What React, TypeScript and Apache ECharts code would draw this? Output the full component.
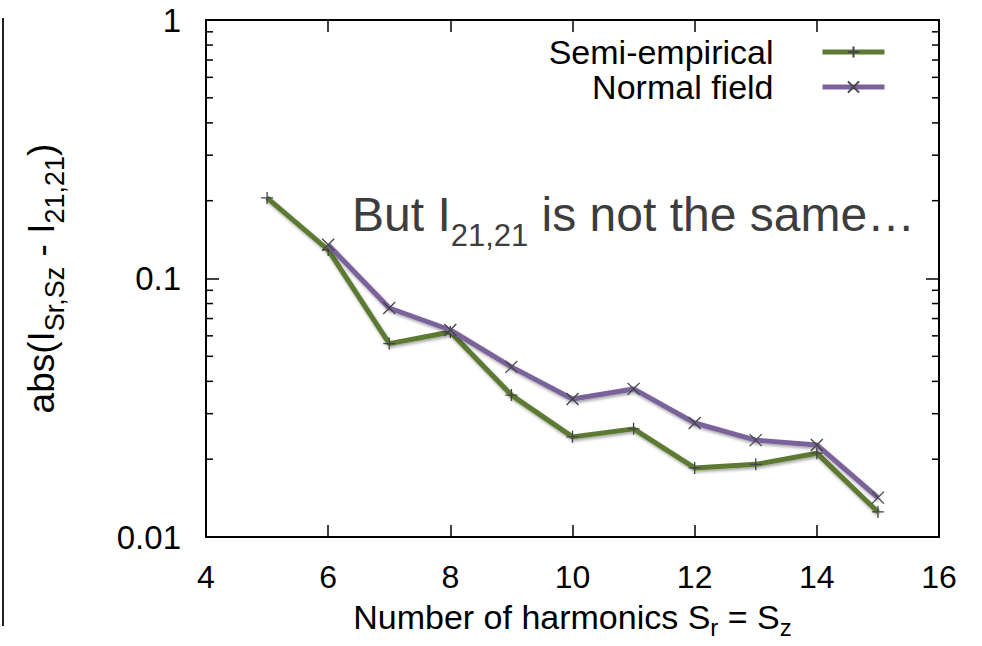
import React, { useEffect, useRef } from "react";
import * as echarts from "echarts";

const harmonics = [5, 6, 7, 8, 9, 10, 11, 12, 13, 14, 15];
const semiEmpirical = [0.205, 0.129, 0.0560, 0.0621, 0.0354, 0.0244, 0.0262, 0.0185, 0.0191, 0.0211, 0.0125];
const normalHarmonics = [6, 7, 8, 9, 10, 11, 12, 13, 14, 15];
const normalField = [0.135, 0.0769, 0.0632, 0.0455, 0.0342, 0.0374, 0.0276, 0.0237, 0.0227, 0.0142];
const xTicks = [4, 6, 8, 10, 12, 14, 16];
const yMajor = [0.01, 0.1, 1];
const yMinor = [0.02, 0.03, 0.04, 0.05, 0.06, 0.07, 0.08, 0.09, 0.2, 0.3, 0.4, 0.5, 0.6, 0.7, 0.8, 0.9];

const FONT = "'Liberation Sans', Arial, Helvetica, sans-serif";
const GREEN = "#5d7a31";
const PURPLE = "#7a639b";
const PLUS = "path://M0,5L10,5M5,0L5,10";
const CROSS = "path://M0,0L10,10M10,0L0,10";

export default function App() {
  const ref = useRef<HTMLDivElement>(null);
  useEffect(() => {
    if (!ref.current) return;
    const chart = echarts.init(ref.current, null, { renderer: "svg" });
    const xMin = xTicks[0];
    const xMax = xTicks[xTicks.length - 1];
    const shadow = { shadowColor: "rgba(0,0,0,0.35)", shadowBlur: 3, shadowOffsetX: 1, shadowOffsetY: 2 };
    const axisCommon = {
      axisLine: { show: true, onZero: false, lineStyle: { color: "#000", width: 2 } },
      splitLine: { show: false },
    };
    chart.setOption({
      animation: false,
      backgroundColor: "#fff",
      grid: { left: 206, right: 43, top: 20, bottom: 109, containLabel: false, outerBoundsMode: "none" },
      legend: {
        orient: "vertical",
        align: "right",
        right: 90,
        top: 30,
        itemWidth: 62,
        itemHeight: 14,
        itemGap: 1,
        selectedMode: false,
        textStyle: { fontFamily: FONT, fontSize: 34, color: "#000", padding: [0, 44, 0, 0], lineHeight: 33 },
        data: [
          { name: "Semi-empirical", lineStyle: { color: GREEN, width: 5 } },
          { name: "Normal field", lineStyle: { color: PURPLE, width: 5 } },
        ],
      },
      xAxis: [
        {
          type: "value",
          min: xMin,
          max: xMax,
          interval: 2,
          position: "bottom",
          ...axisCommon,
          axisTick: { show: true, inside: true, length: 12, lineStyle: { color: "#000", width: 1.5 } },
          axisLabel: { fontFamily: FONT, fontSize: 32, color: "#000", margin: 24 },
          name: "{m|Number of harmonics S}{s|r}{m| = S}{s|z}",
          nameLocation: "middle",
          nameGap: 58,
          nameTextStyle: {
            fontFamily: FONT,
            color: "#000",
            rich: {
              m: { fontFamily: FONT, fontSize: 34, color: "#000" },
              s: { fontFamily: FONT, fontSize: 24, color: "#000", padding: [20, 0, 0, 0] },
            },
          },
        },
        {
          type: "value",
          min: xMin,
          max: xMax,
          interval: 2,
          position: "top",
          ...axisCommon,
          axisTick: { show: true, inside: true, length: 12, lineStyle: { color: "#000", width: 1.5 } },
          axisLabel: { show: false },
        },
      ],
      yAxis: [
        {
          type: "log",
          logBase: 10,
          min: yMajor[0],
          max: yMajor[yMajor.length - 1],
          position: "left",
          ...axisCommon,
          axisTick: { show: true, inside: true, length: 13, lineStyle: { color: "#000", width: 1.5 } },
          axisLabel: { fontFamily: FONT, fontSize: 33, color: "#000", margin: 25, formatter: (v: number) => String(v) },
          name: "{m|abs(I}{s|Sr,Sz}{m| - I}{s|21,21}{m|)}",
          nameLocation: "middle",
          nameRotate: 90,
          nameGap: 138,
          nameTextStyle: {
            fontFamily: FONT,
            color: "#000",
            rich: {
              m: { fontFamily: FONT, fontSize: 37, color: "#000" },
              s: { fontFamily: FONT, fontSize: 27, color: "#000", padding: [26, 0, 0, 0] },
            },
          },
        },
        {
          type: "log",
          logBase: 10,
          min: yMajor[0],
          max: yMajor[yMajor.length - 1],
          position: "right",
          ...axisCommon,
          axisTick: { show: true, inside: true, length: 13, lineStyle: { color: "#000", width: 1.5 } },
          axisLabel: { show: false },
        },
      ],
      graphic: [
        {
          type: "line",
          shape: { x1: 3, y1: 18, x2: 3, y2: 626 },
          style: { stroke: "#222", lineWidth: 2 },
        },
        {
          type: "text",
          left: 352,
          top: 190,
          style: {
            text: "{m|But I}{s|21,21}{m| is not the same…}",
            fontFamily: FONT,
            fill: "#3d3d3d",
            rich: {
              m: { fontFamily: FONT, fontSize: 48, fill: "#3d3d3d", color: "#3d3d3d" },
              s: { fontFamily: FONT, fontSize: 31, fill: "#3d3d3d", color: "#3d3d3d", padding: [42, 0, 0, 0] },
            },
          },
        },
      ],
      series: [
        {
          type: "custom",
          name: "minorTicks",
          xAxisIndex: 0,
          yAxisIndex: 0,
          silent: true,
          clip: false,
          data: yMinor.map((v) => [xMin, v]),
          renderItem: (params: any, api: any) => {
            const v = api.value(1);
            const pL = api.coord([xMin, v]);
            const pR = api.coord([xMax, v]);
            const st = { stroke: "#000", lineWidth: 1.5 };
            return {
              type: "group",
              children: [
                { type: "line", shape: { x1: pL[0], y1: pL[1], x2: pL[0] + 7, y2: pL[1] }, style: st },
                { type: "line", shape: { x1: pR[0] - 7, y1: pR[1], x2: pR[0], y2: pR[1] }, style: st },
              ],
            };
          },
        },
        {
          type: "line",
          name: "Semi-empirical",
          xAxisIndex: 0,
          yAxisIndex: 0,
          data: harmonics.map((x, i) => [x, semiEmpirical[i]]),
          symbol: PLUS,
          symbolSize: 12,
          showSymbol: true,
          lineStyle: { color: GREEN, width: 5, ...shadow },
          itemStyle: { color: "none", borderColor: "#444", borderWidth: 1.3 },
          z: 3,
        },
        {
          type: "line",
          name: "Normal field",
          xAxisIndex: 0,
          yAxisIndex: 0,
          data: normalHarmonics.map((x, i) => [x, normalField[i]]),
          symbol: CROSS,
          symbolSize: 12,
          showSymbol: true,
          lineStyle: { color: PURPLE, width: 5, ...shadow },
          itemStyle: { color: "none", borderColor: "#444", borderWidth: 1.3 },
          z: 4,
        },
      ],
    });
    return () => chart.dispose();
  }, []);
  return <div ref={ref} style={{ position: "fixed", left: 0, top: 0, width: 982, height: 646 }} />;
}
